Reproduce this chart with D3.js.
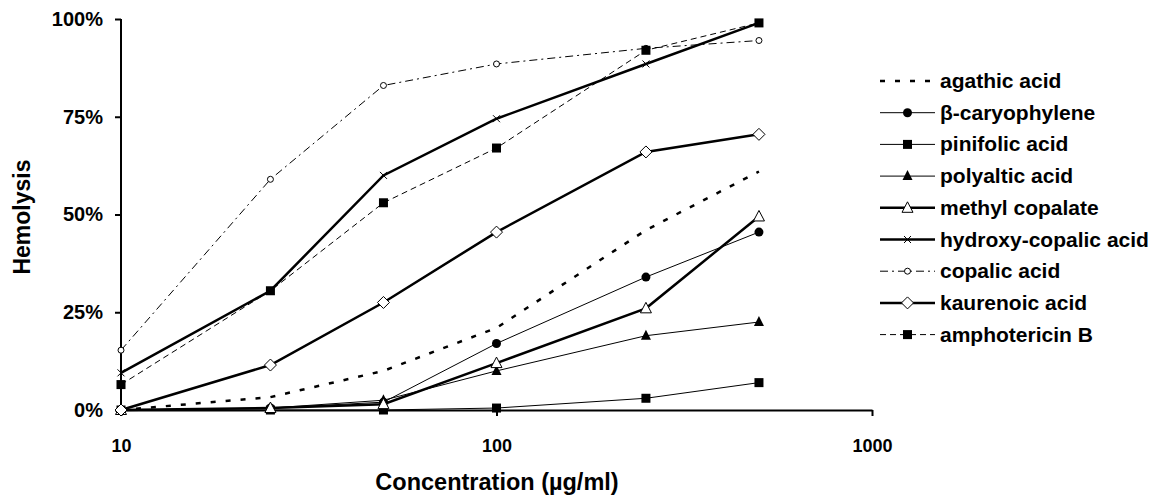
<!DOCTYPE html>
<html><head><meta charset="utf-8">
<script src="https://cdn.jsdelivr.net/npm/d3@7"></script>
<style>body{margin:0;background:#fff}svg{display:block}text{font-family:"Liberation Sans",Arial,sans-serif;font-weight:bold;fill:#000}</style>
</head><body><svg id="c" width="1160" height="499"></svg>
<script>
const concentrations = [10, 25, 50, 100, 250, 500];
const seriesNames = ["agathic acid","β-caryophylene","pinifolic acid","polyaltic acid","methyl copalate","hydroxy-copalic acid","copalic acid","kaurenoic acid","amphotericin B"];
const agathic      = [0, 0.033, 0.10, 0.21, 0.46, 0.61];
const caryophylene = [0, 0.005, 0.02, 0.17, 0.34, 0.455];
const pinifolic    = [0, 0, 0, 0.005, 0.03, 0.07];
const polyaltic    = [0, 0.005, 0.025, 0.10, 0.19, 0.225];
const methylCop    = [0, 0.005, 0.015, 0.12, 0.26, 0.495];
const hydroxyCop   = [0.095, 0.305, 0.60, 0.745, 0.885, 0.99];
const copalic      = [0.153, 0.59, 0.83, 0.885, 0.925, 0.945];
const kaurenoic    = [0, 0.115, 0.275, 0.455, 0.66, 0.705];
const amphotericin = [0.065, 0.305, 0.53, 0.67, 0.92, 0.99];
const xTicks = [10, 100, 1000];
const yTicks = [0, 0.25, 0.5, 0.75, 1];

const styles = [
  {w:2.5, dash:"5,10", m:null},
  {w:1, dash:null, m:"circle"},
  {w:1, dash:null, m:"square"},
  {w:1, dash:null, m:"triangle"},
  {w:2.5, dash:null, m:"otriangle"},
  {w:2.5, dash:null, m:"cross"},
  {w:1, dash:"8,4,2,4", m:"ocircle"},
  {w:2.5, dash:null, m:"diamond"},
  {w:1, dash:"6,4", m:"square"}
];
const allValues = [agathic, caryophylene, pinifolic, polyaltic, methylCop, hydroxyCop, copalic, kaurenoic, amphotericin];

const svg = d3.select("#c");
const x = d3.scaleLog().domain([10,1000]).range([121,872]);
const y = d3.scaleLinear().domain([0,1]).range([410,19]);

// axes
const yAx = svg.append("g").attr("transform","translate(121,0)")
  .call(d3.axisLeft(y).tickValues(yTicks).tickFormat(d3.format(".0%")).tickSize(6).tickPadding(12));
const xAx = svg.append("g").attr("transform","translate(0,410)")
  .call(d3.axisBottom(x).tickValues(xTicks).tickFormat(d3.format("d")).tickSize(6).tickSizeOuter(0).tickPadding(23));
[yAx,xAx].forEach(g=>{
  g.select(".domain").attr("stroke","#000").attr("stroke-width",2);
  g.selectAll(".tick line").attr("stroke","#000").attr("stroke-width",2);
  g.selectAll("text").style("font-family","Liberation Sans, Arial, sans-serif").style("font-weight","bold").attr("fill","#000");
});
yAx.selectAll("text").style("font-size","20px");
xAx.selectAll("text").style("font-size","18px");
yAx.select(".domain").attr("d","M0,19V410");

svg.append("text").attr("x",497).attr("y",490).attr("text-anchor","middle").style("font-size","23.5px").text("Concentration (µg/ml)");
svg.append("text").attr("transform","translate(30,217) rotate(-90)").attr("text-anchor","middle").style("font-size","23px").text("Hemolysis");

function marker(g, type, cx, cy){
  if(type==="circle") g.append("circle").attr("cx",cx).attr("cy",cy).attr("r",4.5).attr("fill","#000");
  else if(type==="square") g.append("rect").attr("x",cx-4.5).attr("y",cy-4.5).attr("width",9).attr("height",9).attr("fill","#000");
  else if(type==="triangle") g.append("path").attr("d",`M${cx},${cy-6}L${cx+5},${cy+4}L${cx-5},${cy+4}Z`).attr("fill","#000");
  else if(type==="otriangle") g.append("path").attr("d",`M${cx},${cy-6}L${cx+5.5},${cy+4.5}L${cx-5.5},${cy+4.5}Z`).attr("fill","#fff").attr("stroke","#000").attr("stroke-width",1);
  else if(type==="cross") g.append("path").attr("d",`M${cx-3.5},${cy-3.5}L${cx+3.5},${cy+3.5}M${cx+3.5},${cy-3.5}L${cx-3.5},${cy+3.5}`).attr("stroke","#000").attr("stroke-width",1);
  else if(type==="ocircle") g.append("circle").attr("cx",cx).attr("cy",cy).attr("r",3).attr("fill","#fff").attr("stroke","#000").attr("stroke-width",1);
  else if(type==="diamond") g.append("path").attr("d",`M${cx},${cy-6}L${cx+6},${cy}L${cx},${cy+6}L${cx-6},${cy}Z`).attr("fill","#fff").attr("stroke","#000").attr("stroke-width",1);
}

const line = d3.line().x((d,i)=>x(concentrations[i])).y(d=>y(d));
allValues.forEach((vals,k)=>{
  const st = styles[k];
  const g = svg.append("g");
  g.append("path").attr("d",line(vals)).attr("fill","none").attr("stroke","#000")
    .attr("stroke-width",st.w).attr("stroke-dasharray",st.dash);
  if(st.m) vals.forEach((v,i)=>marker(g, st.m, x(concentrations[i]), y(v)));
});

// legend
const lg = svg.append("g");
seriesNames.forEach((name,k)=>{
  const st = styles[k];
  const cy = 81 + k*31.7;
  lg.append("line").attr("x1",880).attr("x2",935).attr("y1",cy).attr("y2",cy)
    .attr("stroke","#000").attr("stroke-width",st.w).attr("stroke-dasharray",st.dash);
  if(st.m) marker(lg, st.m, 907.5, cy);
  lg.append("text").attr("x",940).attr("y",cy+7).style("font-size","21px").text(name);
});
</script></body></html>
